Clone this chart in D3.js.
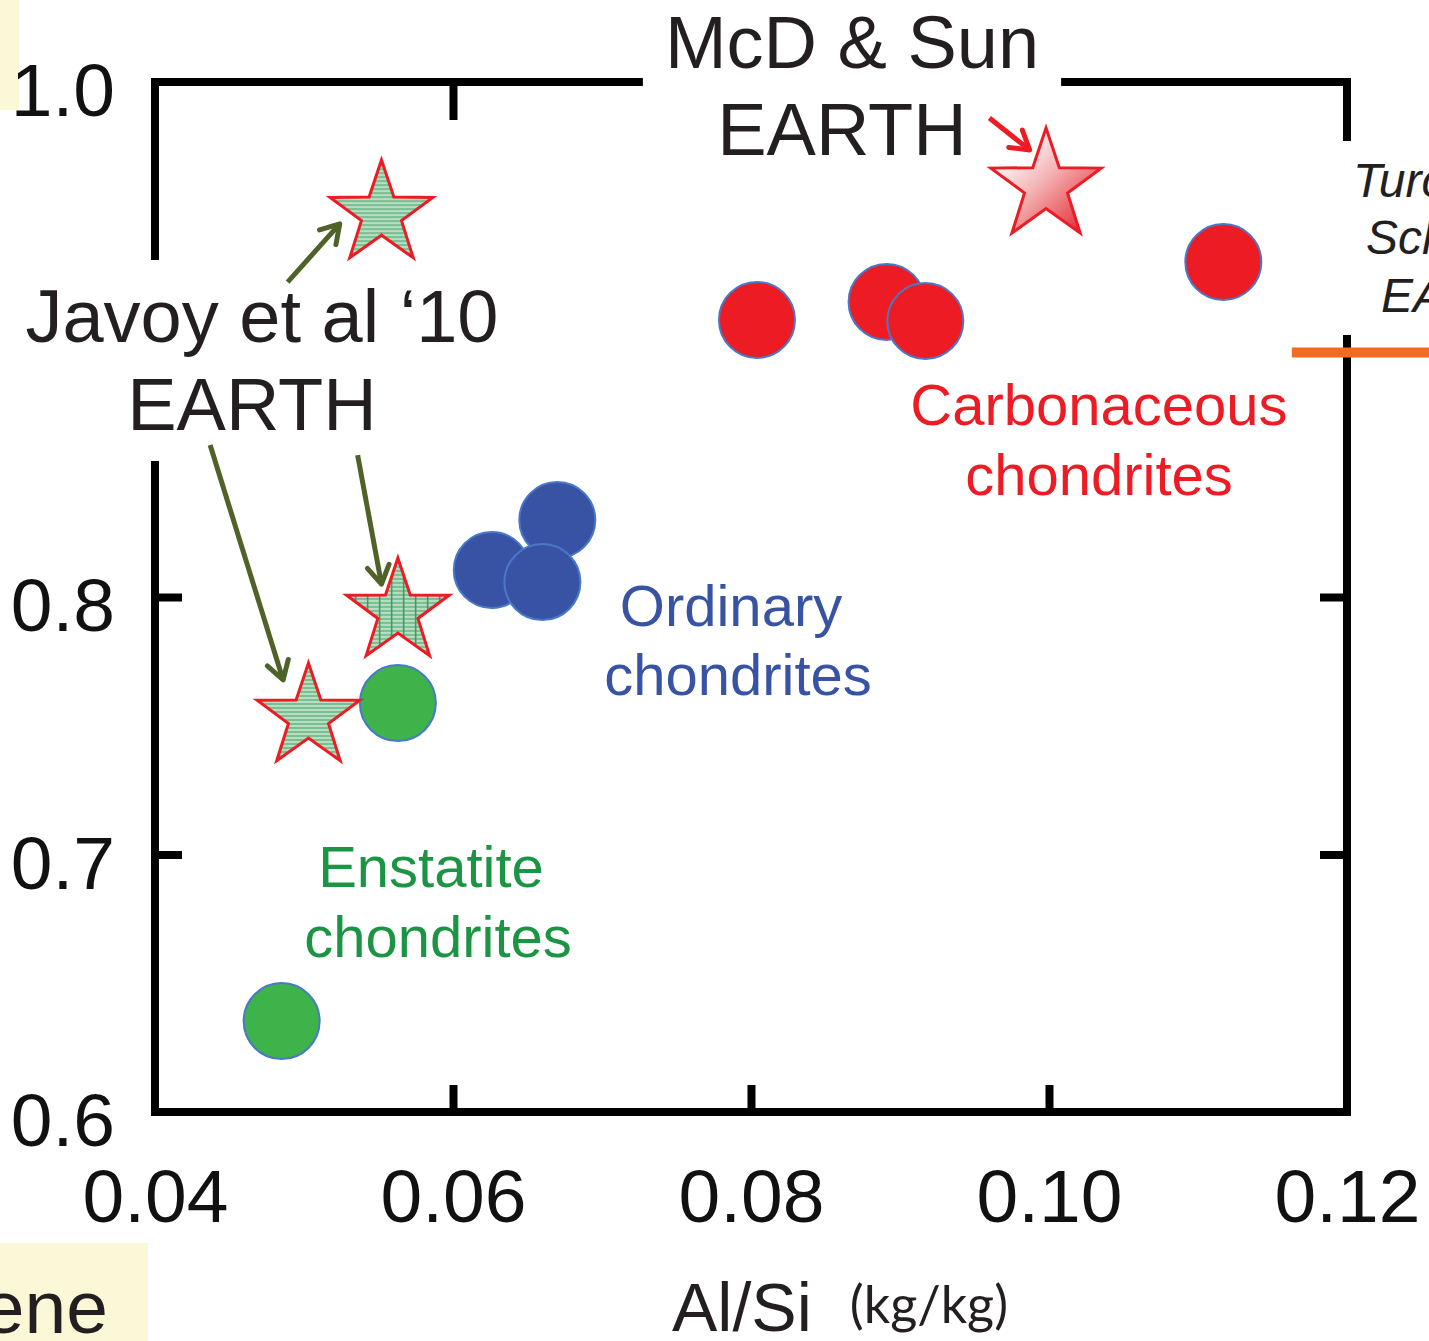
<!DOCTYPE html>
<html>
<head>
<meta charset="utf-8">
<script src="https://cdn.jsdelivr.net/npm/d3@7"></script>
<style>
  body { margin: 0; background: #fff; }
  svg { display: block; }
  text { font-family: "Liberation Sans", Arial, sans-serif; }
</style>
</head>
<body>
<div id="container"></div>
<script>
const w = 1429;
const h = 1341;

// axis ticks
const xTicks = [0.04, 0.06, 0.08, 0.10, 0.12];
const yTicks = [0.6, 0.7, 0.8, 1.0];
const xInnerTicks = [0.06, 0.08, 0.10];
const yInnerTicks = [0.7, 0.8];
const xTopTicks = [0.06];

// Al/Si vs Mg/Si (kg/kg)
const carbonaceous = [[0.0804, 0.9076], [0.0891, 0.9146], [0.0917, 0.9072], [0.1117, 0.9301]];
const ordinary = [[0.0670, 0.8299], [0.0626, 0.8105], [0.0660, 0.8058]];
const enstatite = [[0.0563, 0.7588], [0.0485, 0.6353]];
const javoy = [[0.0552, 0.9487], [0.0563, 0.7942], [0.0503, 0.7534]];
const mcdSun = [[0.0998, 0.9596]];
const turcotte = [0.895];

const x = d3.scaleLinear().domain([0.04, 0.12]).range([155, 1347]);
const y = d3.scaleLinear().domain([0.6, 1.0]).range([1112, 82]);

const svg = d3.select('#container')
  .append('svg')
  .attr('width', w)
  .attr('height', h)
  .attr('viewBox', [0, 0, w, h]);

const defs = svg.append('defs');

// striped green fill used by the Javoy stars
const stripes = defs.append('pattern')
  .attr('id', 'stripes')
  .attr('patternUnits', 'userSpaceOnUse')
  .attr('width', 12).attr('height', 4);
stripes.append('rect').attr('width', 12).attr('height', 4).attr('fill', '#b7dec3');
stripes.append('rect').attr('y', 2).attr('width', 12).attr('height', 2).attr('fill', '#79bf92');

const grid = defs.append('pattern')
  .attr('id', 'grid')
  .attr('patternUnits', 'userSpaceOnUse')
  .attr('width', 12).attr('height', 4);
grid.append('rect').attr('width', 12).attr('height', 4).attr('fill', '#b7dec3');
grid.append('rect').attr('y', 2).attr('width', 12).attr('height', 2).attr('fill', '#79bf92');
grid.append('rect').attr('x', 5).attr('width', 1.5).attr('height', 4).attr('fill', '#3f955f');

const grad = defs.append('linearGradient')
  .attr('id', 'redgrad')
  .attr('x1', 0.15).attr('y1', 0.2).attr('x2', 0.85).attr('y2', 0.9);
grad.append('stop').attr('offset', 0).attr('stop-color', '#ffffff');
grad.append('stop').attr('offset', 0.45).attr('stop-color', '#f3b2b4');
grad.append('stop').attr('offset', 1).attr('stop-color', '#e5353d');

const arrowColors = {olive: '#4f6228', red: '#ed1c24'};
Object.entries(arrowColors).forEach(([k, c]) => {
  defs.append('marker')
    .attr('id', 'head-' + k)
    .attr('markerUnits', 'userSpaceOnUse')
    .attr('viewBox', '-24 -16 30 32')
    .attr('markerWidth', 30).attr('markerHeight', 32)
    .attr('refX', 0).attr('refY', 0)
    .attr('orient', 'auto')
    .append('path')
      .attr('d', 'M-18,-11 L0,0 L-18,11')
      .attr('fill', 'none')
      .attr('stroke', c)
      .attr('stroke-width', 5)
      .attr('stroke-linecap', 'round')
      .attr('stroke-linejoin', 'round');
});

// background note boxes
svg.append('rect').attr('x', 0).attr('y', 0).attr('width', 19).attr('height', 110).attr('fill', '#fbf8d7');
svg.append('rect').attr('x', 0).attr('y', 1243).attr('width', 148).attr('height', 98).attr('fill', '#fbf8d7');
svg.append('text')
  .attr('x', 108).attr('y', 1333)
  .attr('text-anchor', 'end')
  .attr('font-size', 75)
  .attr('fill', '#231f20')
  .text('ene');

// frame
svg.append('rect')
  .attr('x', x(0.04)).attr('y', y(1.0))
  .attr('width', x(0.12) - x(0.04))
  .attr('height', y(0.6) - y(1.0))
  .attr('fill', 'none')
  .attr('stroke', '#000')
  .attr('stroke-width', 8);

function styleAxis(g) {
  g.select('.domain').remove();
  g.selectAll('.tick line').attr('stroke', '#000').attr('stroke-width', 8);
  g.selectAll('.tick text')
    .attr('font-family', '"Liberation Sans", Arial, sans-serif')
    .attr('font-size', 75)
    .attr('fill', '#111');
}

svg.append('g')
  .attr('transform', `translate(0,${y(0.6)})`)
  .call(d3.axisBottom(x).tickValues(xTicks).tickFormat(d3.format('.2f'))
    .tickSizeInner(0).tickSizeOuter(0).tickPadding(57))
  .call(styleAxis);

svg.append('g')
  .attr('transform', `translate(0,${y(0.6)})`)
  .call(d3.axisBottom(x).tickValues(xInnerTicks).tickFormat('')
    .tickSizeInner(-27).tickSizeOuter(0))
  .call(styleAxis);

svg.append('g')
  .attr('transform', `translate(0,${y(1.0)})`)
  .call(d3.axisTop(x).tickValues(xTopTicks).tickFormat('')
    .tickSizeInner(-38).tickSizeOuter(0))
  .call(styleAxis);

svg.append('g')
  .attr('transform', `translate(${x(0.04)},0)`)
  .call(d3.axisLeft(y).tickValues(yTicks).tickFormat(d3.format('.1f'))
    .tickSizeInner(0).tickSizeOuter(0).tickPadding(40))
  .call(styleAxis)
  .call(g => g.selectAll('.tick text').attr('dy', '0.45em'));

svg.append('g')
  .attr('transform', `translate(${x(0.04)},0)`)
  .call(d3.axisLeft(y).tickValues(yInnerTicks).tickFormat('')
    .tickSizeInner(-27).tickSizeOuter(0))
  .call(styleAxis);

svg.append('g')
  .attr('transform', `translate(${x(0.12)},0)`)
  .call(d3.axisRight(y).tickValues(yInnerTicks).tickFormat('')
    .tickSizeInner(-27).tickSizeOuter(0))
  .call(styleAxis);

// axis title
const xt = svg.append('text')
  .attr('x', 672).attr('y', 1331)
  .attr('fill', '#231f20');
xt.append('tspan').attr('font-size', 68).text('Al/Si');
xt.append('tspan')
  .attr('dx', 38)
  .attr('font-size', 52)
  .attr('font-family', 'Lato, "Open Sans", sans-serif')
  .attr('dy', -8)
  .text('(kg/kg)');

// text labels, some sitting on white boxes that break the frame
function label(lines, opts) {
  const g = svg.append('g');
  const t = g.append('text')
    .attr('font-size', opts.size)
    .attr('text-anchor', opts.anchor || 'middle')
    .attr('font-style', opts.italic ? 'italic' : null)
    .attr('fill', opts.color || '#231f20');
  lines.forEach(l => t.append('tspan').attr('x', l[1]).attr('y', l[2]).text(l[0]));
  if (opts.box) {
    const b = t.node().getBBox();
    const px = opts.padX || 14, py = opts.padY || 14;
    g.insert('rect', 'text')
      .attr('x', b.x - px).attr('y', b.y - py)
      .attr('width', b.width + 2 * px).attr('height', b.height + 2 * py)
      .attr('fill', '#fff');
  }
  return g;
}

// Turcotte & Schubert reference level
svg.append('line')
  .attr('x1', x(0.1163)).attr('x2', w)
  .attr('y1', y(turcotte[0])).attr('y2', y(turcotte[0]))
  .attr('stroke', '#f26b21')
  .attr('stroke-width', 10);

label([['Turcotte &', 1462, 197], ['Schubert', 1462, 254], ['EARTH', 1462, 312]],
  {size: 48, italic: true, box: true, padX: 40, padY: 13});

label([['McD & Sun', 852, 68], ['EARTH', 842, 155]], {size: 74, box: true, padX: 22, padY: 14});
label([['Javoy et al \u201810', 262, 342], ['EARTH', 252, 430]], {size: 74, box: true, padX: 14, padY: 15});

label([['Carbonaceous', 1099, 425], ['chondrites', 1099, 495]], {size: 58, color: '#ed1c24'});
label([['Ordinary', 731, 626], ['chondrites', 738, 695]], {size: 58, color: '#3953a4'});
label([['Enstatite', 431, 887], ['chondrites', 438, 957]], {size: 58, color: '#1b9444'});

// arrows
function arrow(x1, y1, x2, y2, k) {
  svg.append('line')
    .attr('x1', x(x1)).attr('y1', y(y1))
    .attr('x2', x(x2)).attr('y2', y(y2))
    .attr('stroke', arrowColors[k])
    .attr('stroke-width', 5)
    .attr('marker-end', `url(#head-${k})`);
}
arrow(0.0489, 0.9223, 0.0524, 0.9449, 'olive');
arrow(0.0437, 0.8590, 0.0486, 0.7678, 'olive');
arrow(0.0536, 0.8551, 0.0552, 0.8050, 'olive');
arrow(0.0960, 0.9860, 0.0987, 0.9736, 'red');

// points
function dots(data, fill) {
  svg.append('g')
    .selectAll('circle')
    .data(data)
    .join('circle')
      .attr('cx', d => x(d[0]))
      .attr('cy', d => y(d[1]))
      .attr('r', 38)
      .attr('fill', fill)
      .attr('stroke', '#4a78c8')
      .attr('stroke-width', 2);
}
dots(carbonaceous, '#ed1c24');
dots(ordinary, '#3953a4');
dots(enstatite, '#3db34a');

function starPath(R) {
  const r = R * 0.39;
  const pts = d3.range(10).map(i => {
    const a = -Math.PI / 2 + i * Math.PI / 5;
    const rr = i % 2 ? r : R;
    return [rr * Math.cos(a), rr * Math.sin(a)];
  });
  return 'M' + pts.join('L') + 'Z';
}

svg.append('g')
  .selectAll('path')
  .data(javoy)
  .join('path')
    .attr('transform', d => `translate(${x(d[0])},${y(d[1])})`)
    .attr('d', starPath(54))
    .attr('fill', (d, i) => i === 1 ? 'url(#grid)' : 'url(#stripes)')
    .attr('stroke', '#ed1c24')
    .attr('stroke-width', 3)
    .attr('stroke-linejoin', 'miter');

svg.append('g')
  .selectAll('path')
  .data(mcdSun)
  .join('path')
    .attr('transform', d => `translate(${x(d[0])},${y(d[1])})`)
    .attr('d', starPath(58))
    .attr('fill', 'url(#redgrad)')
    .attr('stroke', '#ed1c24')
    .attr('stroke-width', 3);
</script>
</body>
</html>
